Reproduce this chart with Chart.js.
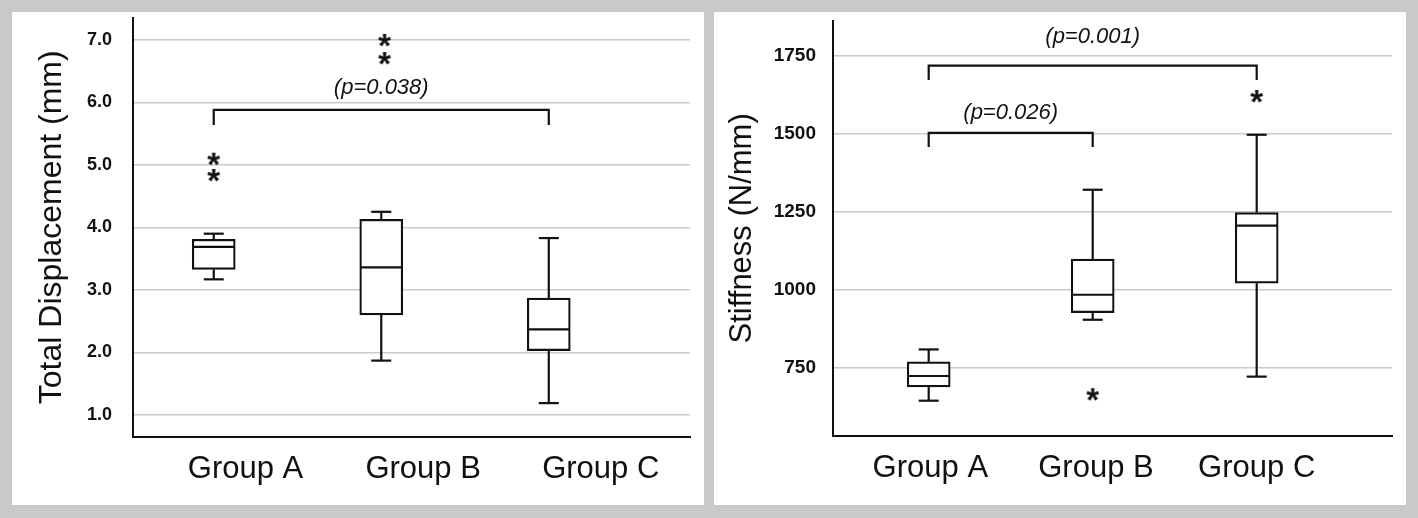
<!DOCTYPE html>
<html>
<head>
<meta charset="utf-8">
<script src="https://cdn.jsdelivr.net/npm/chart.js@4.4.1/dist/chart.umd.min.js"></script>
<style>
  html, body { margin: 0; padding: 0; background: #c9c9c9; width: 1418px; height: 518px; overflow: hidden; }
  .panel { position: absolute; top: 12px; width: 692px; height: 493px; background: #fff; }
  #p1 { left: 12px; }
  #p2 { left: 714px; }
  canvas { display: block; }
</style>
</head>
<body>
<div class="panel" id="p1"><canvas id="dispChart" width="692" height="493"></canvas></div>
<div class="panel" id="p2"><canvas id="stiffChart" width="692" height="493"></canvas></div>
<script>
const groups = ['Group A', 'Group B', 'Group C'];

// total displacement (mm): lower whisker, q1, median, q3, upper whisker
const dispMin = [3.17, 1.87, 1.19];
const dispQ1  = [3.33, 2.60, 2.03];
const dispMed = [3.69, 3.36, 2.37];
const dispQ3  = [3.81, 4.13, 2.87];
const dispMax = [3.90, 4.25, 3.83];
const dispStars = [{x: 1, y: 5.10}, {x: 1, y: 4.84}, {x: 2.02, y: 7.00}, {x: 2.02, y: 6.71}];
const dispTicks = [1, 2, 3, 4, 5, 6, 7];
// bracket: from group, to group, bar level, leg end
const dispBrackets = [[1, 3, 5.88, 5.64]];
const dispPText = ['(p=0.038)'];
const dispPAt = [[2, 6.23]];

// stiffness (N/mm)
const stiffMin = [646, 905, 723];
const stiffQ1  = [690, 928, 1022];
const stiffMed = [725, 985, 1206];
const stiffQ3  = [770, 1099, 1248];
const stiffMax = [810, 1321, 1497];
const stiffStars = [{x: 2, y: 667}, {x: 3, y: 1621}];
const stiffTicks = [750, 1000, 1250, 1500, 1750];
const stiffBrackets = [[1, 3, 1718, 1672], [1, 2, 1503, 1458]];
const stiffPText = ['(p=0.001)', '(p=0.026)'];
const stiffPAt = [[2, 1809], [1.5, 1566]];

const FONT = '"Liberation Sans", Arial, sans-serif';
const INK = '#111';
const LW = 2.2;

// asterisk marker for the outlier points
function makeStar() {
  const c = document.createElement('canvas');
  c.width = 24; c.height = 24;
  const g = c.getContext('2d');
  g.font = 'bold 33px ' + FONT;
  g.fillStyle = INK;
  g.textAlign = 'center';
  g.textBaseline = 'alphabetic';
  const m = g.measureText('*');
  const base = 12 + (m.actualBoundingBoxAscent - m.actualBoundingBoxDescent) / 2;
  g.fillText('*', 12, base);
  return c;
}
const star = makeStar();

const boxExtras = {
  id: 'boxExtras',
  afterDatasetsDraw(chart, args, o) {
    const ctx = chart.ctx, x = chart.scales.x, y = chart.scales.y;
    const seg = (x1, y1, x2, y2) => { ctx.beginPath(); ctx.moveTo(x1, y1); ctx.lineTo(x2, y2); ctx.stroke(); };
    ctx.save();
    ctx.strokeStyle = INK;
    ctx.lineWidth = LW;
    o.min.forEach((v, i) => {
      const cx = x.getPixelForValue(i + 1);
      const hb = 21.5, hc = 10;
      const yMax = y.getPixelForValue(o.max[i]), yQ3 = y.getPixelForValue(o.q3[i]);
      const yMin = y.getPixelForValue(o.min[i]), yQ1 = y.getPixelForValue(o.q1[i]);
      const yMed = y.getPixelForValue(o.med[i]);
      seg(cx, yQ3, cx, yMax);
      seg(cx - hc, yMax, cx + hc, yMax);
      seg(cx, yQ1, cx, yMin);
      seg(cx - hc, yMin, cx + hc, yMin);
      seg(cx - hb + 1, yMed, cx + hb - 1, yMed);
    });
    ctx.fillStyle = INK;
    ctx.font = 'italic 22px ' + FONT;
    ctx.textAlign = 'center';
    ctx.textBaseline = 'middle';
    o.texts.forEach((t, i) => {
      ctx.fillText(t, x.getPixelForValue(o.textAt[i][0]), y.getPixelForValue(o.textAt[i][1]));
    });
    ctx.restore();
  }
};

function bracketSets(list) {
  return list.map(b => ({
    type: 'line',
    data: [{x: b[0], y: b[3]}, {x: b[0], y: b[2]}, {x: b[1], y: b[2]}, {x: b[1], y: b[3]}],
    borderColor: INK, borderWidth: LW, pointRadius: 0, fill: false, tension: 0
  }));
}

function makeChart(id, s) {
  return new Chart(document.getElementById(id), {
    type: 'bar',
    data: {
      datasets: [
        {
          type: 'bar',
          data: s.q1.map((v, i) => ({x: i + 1, y: [v, s.q3[i]]})),
          backgroundColor: '#fff', borderColor: INK, borderWidth: LW,
          borderSkipped: false, barThickness: 43
        },
        ...bracketSets(s.brackets),
        {
          type: 'scatter',
          data: s.stars,
          pointStyle: star, pointRadius: 12
        }
      ]
    },
    options: {
      responsive: false,
      animation: false,
      events: [],
      layout: { autoPadding: false, padding: { left: 0, top: s.top, right: 14, bottom: 0 } },
      plugins: {
        legend: { display: false },
        tooltip: { enabled: false },
        boxExtras: { min: s.min, q1: s.q1, med: s.med, q3: s.q3, max: s.max, texts: s.texts, textAt: s.textAt }
      },
      scales: {
        x: {
          type: 'linear', min: s.xMin, max: s.xMax, offset: false,
          afterBuildTicks: sc => { sc.ticks = s.labelPos.map(v => ({value: v})); },
          afterFit: sc => { sc.height = s.xHeight; sc.paddingLeft = 0; sc.paddingRight = 0; },
          grid: { display: false, drawTicks: false },
          border: { color: INK, width: 2 },
          ticks: {
            autoSkip: false, maxRotation: 0, padding: 14, color: INK,
            font: { family: FONT, size: 31 },
            callback: (v, i) => groups[i]
          }
        },
        y: {
          min: s.yMin, max: s.yMax,
          afterBuildTicks: sc => { sc.ticks = s.ticks.map(v => ({value: v})); },
          afterFit: sc => { sc.width = s.yWidth; sc.paddingTop = 0; sc.paddingBottom = 0; },
          grid: { color: '#cacaca', lineWidth: 1.5, drawTicks: false },
          border: { color: INK, width: 2 },
          ticks: {
            padding: s.tickPad, color: INK,
            font: { family: FONT, size: s.tickSize, weight: 'bold' },
            callback: s.fmt
          },
          title: {
            display: true, text: s.title, color: INK,
            font: { family: FONT, size: s.titleSize },
            padding: { top: s.titlePad, bottom: 0 }
          }
        }
      }
    },
    plugins: [boxExtras]
  });
}

makeChart('dispChart', {
  min: dispMin, q1: dispQ1, med: dispMed, q3: dispQ3, max: dispMax,
  stars: dispStars, brackets: dispBrackets, texts: dispPText, textAt: dispPAt,
  ticks: dispTicks, fmt: v => v.toFixed(1),
  title: 'Total Displacement (mm)', titleSize: 32,
  xMin: 0.518, xMax: 3.843, yMin: 0.656, yMax: 7.35,
  labelPos: [1.19, 2.25, 3.31],
  top: 6, xHeight: 68.5, yWidth: 121, tickPad: 21, tickSize: 18, titlePad: 21
});

makeChart('stiffChart', {
  min: stiffMin, q1: stiffQ1, med: stiffMed, q3: stiffQ3, max: stiffMax,
  stars: stiffStars, brackets: stiffBrackets, texts: stiffPText, textAt: stiffPAt,
  ticks: stiffTicks, fmt: v => String(v),
  title: 'Stiffness (N/mm)', titleSize: 31,
  xMin: 0.4165, xMax: 3.825, yMin: 533, yMax: 1862,
  labelPos: [1.01, 2.02, 3.0],
  top: 8.7, xHeight: 69, yWidth: 119, tickPad: 17, tickSize: 19, titlePad: 10
});
</script>
</body>
</html>
